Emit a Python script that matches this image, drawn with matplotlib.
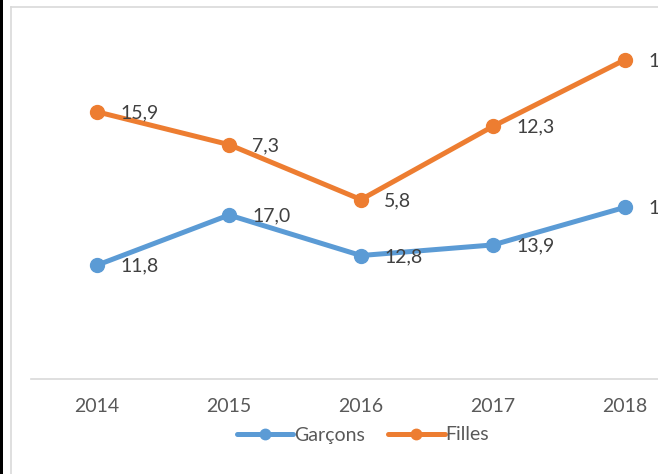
import numpy as np
import matplotlib.pyplot as plt
from matplotlib.patches import Rectangle
from matplotlib.lines import Line2D

# Data (stacked line chart: Filles drawn on top of Garçons)
years = ["2014", "2015", "2016", "2017", "2018"]
garcons = [11.8, 17.0, 12.8, 13.9, 17.8]
filles = [15.9, 7.3, 5.8, 12.3, 15.3]

BLUE = "#5B9BD5"
ORANGE = "#ED7D31"
LABEL = "#404040"
TICK = "#595959"
BORDER = "#D9D9D9"
FS = 14

plt.rcParams["font.family"] = ["Lato", "DejaVu Sans"]

W, H = 658, 474
fig = plt.figure(figsize=(W / 100, H / 100), dpi=100)
fig.patch.set_facecolor("white")

# axes placed in pixel terms: baseline at y=379, category band starts at x=31
ax = fig.add_axes([31 / W, (H - 379) / H, 660 / W, 337.6 / H])
x = np.arange(len(years))
g = np.array(garcons)
f_stack = g + np.array(filles)

ax.plot(x, g, color=BLUE, lw=3.6, marker="o", ms=10, label="Garçons",
        solid_capstyle="round", clip_on=False, zorder=3)
ax.plot(x, f_stack, color=ORANGE, lw=3.6, marker="o", ms=10, label="Filles",
        solid_capstyle="round", clip_on=False, zorder=3)

for xi, yi, v in zip(x, g, garcons):
    ax.annotate(f"{v:.1f}".replace(".", ","), (xi, yi), xytext=(23, -1),
                textcoords="offset pixels", ha="left", va="center",
                fontsize=FS, color=LABEL, annotation_clip=False)
for xi, yi, v in zip(x, f_stack, filles):
    ax.annotate(f"{v:.1f}".replace(".", ","), (xi, yi), xytext=(23, -1),
                textcoords="offset pixels", ha="left", va="center",
                fontsize=FS, color=LABEL, annotation_clip=False)

ax.set_xlim(-0.5, len(years) - 0.5)
ax.set_ylim(0, 35)
ax.set_xticks(x)
ax.set_xticklabels(years)
ax.set_yticks([])
ax.tick_params(axis="x", length=0, pad=14, labelsize=FS, labelcolor=TICK)
for side in ["top", "right", "left"]:
    ax.spines[side].set_visible(False)
ax.spines["bottom"].set_color(BORDER)
ax.spines["bottom"].set_linewidth(1.2)
ax.patch.set_alpha(0)

leg = fig.legend(loc="center", bbox_to_anchor=(363 / W, 1 - 435 / H), ncol=2,
                 frameon=False, fontsize=FS, handlelength=2.9, handletextpad=0.05,
                 columnspacing=1.2, markerscale=0.75, labelcolor=TICK)

# chart frame and the dark strip on the left edge
fig.add_artist(Line2D([10.5 / W, 10.5 / W], [0, 1 - 6.5 / H], transform=fig.transFigure,
                      color=BORDER, lw=1.2))
fig.add_artist(Line2D([10.5 / W, 1], [1 - 6.5 / H, 1 - 6.5 / H], transform=fig.transFigure,
                      color=BORDER, lw=1.2))
fig.add_artist(Rectangle((0, 0), 3 / W, 1, transform=fig.transFigure,
                         facecolor="black", edgecolor="none"))

fig.savefig("out.png", dpi=100)
